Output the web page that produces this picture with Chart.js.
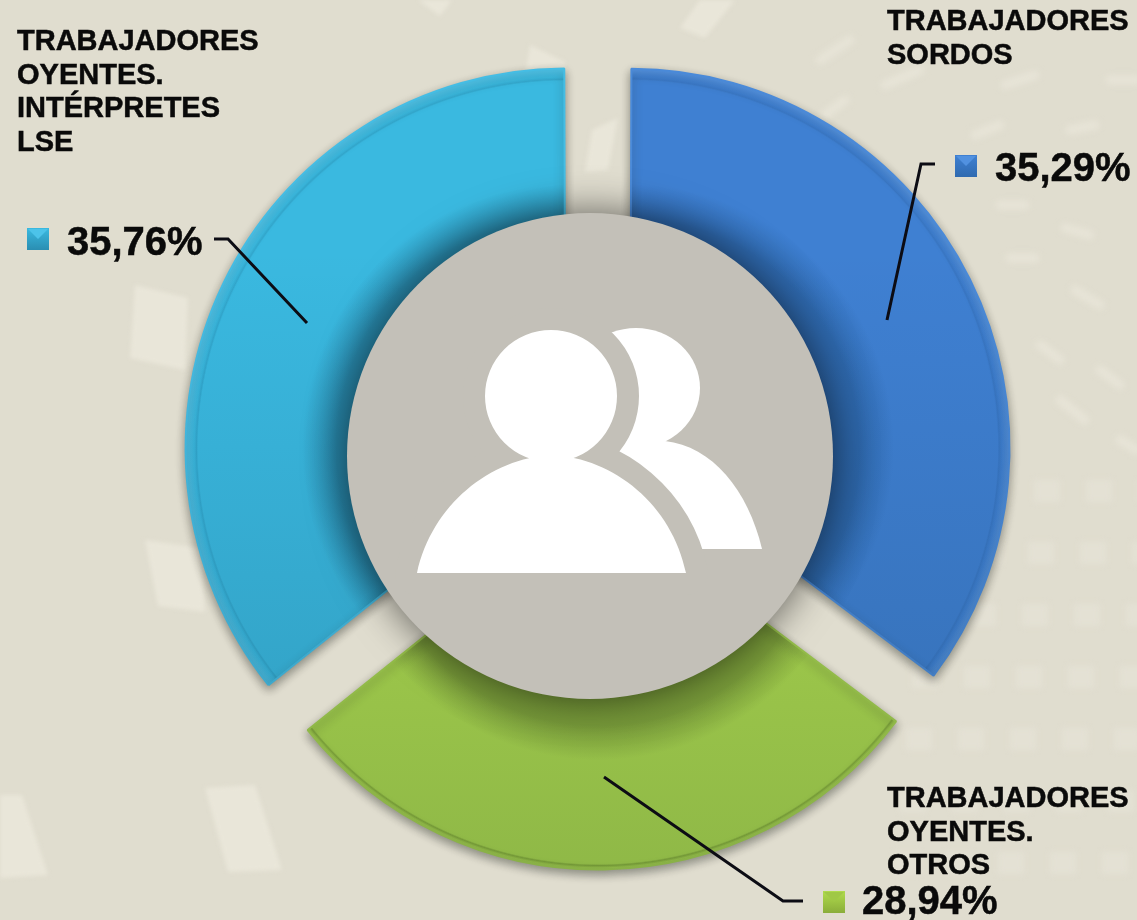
<!DOCTYPE html>
<html>
<head>
<meta charset="utf-8">
<title>Trabajadores</title>
<script src="https://cdn.jsdelivr.net/npm/chart.js@4"></script>
<style>
    html, body { margin: 0; padding: 0; background: #e0ddcf; }
    #wrap { position: relative; width: 1137px; height: 920px; overflow: hidden; }
    canvas { position: absolute; left: 0; top: 0; }
</style>
</head>
<body>
<div id="wrap">
    <canvas id="bg-id" width="1137" height="920"></canvas>
    <canvas id="myChart" width="1137" height="920"></canvas>
</div>
<script>
// Chart data //
const categories = [
    ["TRABAJADORES", "SORDOS"],
    ["TRABAJADORES", "OYENTES.", "OTROS"],
    ["TRABAJADORES", "OYENTES.", "INTÉRPRETES", "LSE"]
];
const values = [35.29, 28.94, 35.76];

// Slice colours: dark near the hole, main, thin line, rim, border
const sliceColors = [
    { dark: "#2f6ab0", main: "#3f80d2", line: "#3a78c6", rim: "#5191e0", border: "#4a8ad9" },
    { dark: "#8aad3a", main: "#b0dc4c", line: "#8fb63a", rim: "#a0c846", border: "#a8d24c" },
    { dark: "#2a8eb2", main: "#3ab9e0", line: "#33a9cf", rim: "#4cc3e9", border: "#45bde4" }
];
const sliceOffsets = [144, 130, 144];

// Where the texts and leader lines sit on the page
const calloutLayout = [
    { textX: 887, textY: 30, markerX: 955, markerY: 155, valueX: 995, valueY: 181,
      line: [[935, 164], [921, 164], [887, 320]] },
    { textX: 887, textY: 807, markerX: 823, markerY: 891, valueX: 862, valueY: 914,
      line: [[604, 777], [783, 901], [803, 901]] },
    { textX: 17, textY: 50, markerX: 27, markerY: 228, valueX: 67, valueY: 255,
      line: [[214, 239], [228, 239], [307, 323]] }
];

const pieCenter = { x: 598, y: 464 };
const pieRadius = 372;
const hub = { x: 590, y: 456, r: 243 };

// Background texture //
function drawBackground() {
    const ctx = document.getElementById("bg-id").getContext("2d");
    ctx.fillStyle = "#e0ddcf";
    ctx.fillRect(0, 0, 1137, 920);

    ctx.filter = "blur(2px)";
    ctx.fillStyle = "#e9e6d9";
    const patches = [
        [[135, 285], [188, 298], [185, 370], [130, 358]],
        [[145, 540], [200, 548], [205, 612], [158, 606]],
        [[205, 788], [255, 785], [282, 870], [228, 872]],
        [[0, 795], [22, 795], [48, 875], [0, 878]],
        [[530, 45], [565, 62], [560, 125], [518, 120]],
        [[418, 0], [452, 0], [440, 16]],
        [[700, 0], [735, 0], [705, 38], [680, 28]],
        [[592, 130], [618, 118], [608, 170], [585, 172]]
    ];
    patches.forEach(p => {
        ctx.beginPath();
        p.forEach((pt, i) => i ? ctx.lineTo(pt[0], pt[1]) : ctx.moveTo(pt[0], pt[1]));
        ctx.closePath();
        ctx.fill();
    });

    // Small dashes on the right side
    ctx.filter = "blur(3px)";
    ctx.strokeStyle = "#e7e4d7";
    ctx.lineWidth = 9;
    ctx.lineCap = "round";
    const dashes = [
        [820, 60, 850, 40], [825, 115, 845, 100], [885, 85, 920, 70], [1005, 85, 1035, 75],
        [1110, 80, 1137, 80], [975, 135, 1000, 125], [1070, 130, 1095, 125], [1000, 205, 1025, 205],
        [1065, 228, 1090, 235], [1010, 258, 1035, 258], [1075, 290, 1100, 305], [1040, 345, 1060, 360],
        [1100, 370, 1120, 385], [1060, 400, 1085, 420], [1120, 440, 1137, 450]
    ];
    dashes.forEach(d => {
        ctx.beginPath();
        ctx.moveTo(d[0], d[1]);
        ctx.lineTo(d[2], d[3]);
        ctx.stroke();
    });

    // Faint grid in the lower right corner
    ctx.filter = "blur(3px)";
    ctx.fillStyle = "#e4e1d4";
    for (let row = 0; row < 7; row++) {
        for (let col = 0; col < 5; col++) {
            const x = 930 + col * 52 - row * 6;
            const y = 480 + row * 62;
            if (x > 880) ctx.fillRect(x, y, 26, 22);
        }
    }
    ctx.filter = "none";
}

// Radial fill of every slice, follows the slice because it is used under the arc translate
function sliceGradient(ctx, c) {
    const g = ctx.createRadialGradient(pieCenter.x, pieCenter.y, 0, pieCenter.x, pieCenter.y, pieRadius + 10);
    g.addColorStop(0, c.dark);
    g.addColorStop(0.6, c.dark);
    g.addColorStop(0.69, c.main);
    g.addColorStop(0.962, c.main);
    g.addColorStop(0.966, c.line);
    g.addColorStop(0.972, c.main);
    g.addColorStop(0.988, c.rim);
    g.addColorStop(1, c.rim);
    return g;
}

function drawMarker(ctx, x, y, c) {
    const s = 22;
    const g = ctx.createLinearGradient(0, y, 0, y + s);
    g.addColorStop(0, c.main);
    g.addColorStop(1, c.dark);
    ctx.fillStyle = g;
    ctx.fillRect(x, y, s, s);
    ctx.fillStyle = c.rim;
    ctx.beginPath();
    ctx.moveTo(x + 1, y + 1);
    ctx.lineTo(x + s - 1, y + 1);
    ctx.lineTo(x + s / 2, y + s * 0.5);
    ctx.closePath();
    ctx.fill();
}

// The two people in the middle
function frontPerson(ctx) {
    ctx.beginPath();
    ctx.arc(551, 396, 66, 0, Math.PI * 2);
    ctx.moveTo(417, 573);
    ctx.bezierCurveTo(432, 505, 490, 458, 552, 455);
    ctx.bezierCurveTo(614, 458, 672, 505, 686, 573);
    ctx.closePath();
}

function drawPeople(ctx) {
    ctx.fillStyle = "#ffffff";
    ctx.beginPath();
    ctx.ellipse(636, 388, 64, 60, 0, 0, Math.PI * 2);
    ctx.fill();
    ctx.beginPath();
    ctx.moveTo(600, 441);
    ctx.lineTo(665, 441);
    ctx.bezierCurveTo(712, 446, 748, 490, 762, 549);
    ctx.lineTo(600, 549);
    ctx.closePath();
    ctx.fill();

    // Grey gap around the front person
    frontPerson(ctx);
    ctx.strokeStyle = "#c3c0b8";
    ctx.lineWidth = 44;
    ctx.lineJoin = "round";
    ctx.stroke();
    ctx.fillStyle = "#c3c0b8";
    ctx.fill();

    frontPerson(ctx);
    ctx.fillStyle = "#ffffff";
    ctx.fill();
}

// Plugin for shadows, hub, icon and callouts
const decorPlugin = {
    id: "decor",
    beforeDatasetsDraw(chart) {
        const ctx = chart.ctx;
        ctx.save();
        ctx.shadowColor = "rgba(40,40,30,0.45)";
        ctx.shadowBlur = 10;
        ctx.shadowOffsetY = 4;
    },
    afterDatasetsDraw(chart) {
        const ctx = chart.ctx;
        ctx.restore();

        // Slices get darker to the bottom
        ctx.save();
        ctx.globalCompositeOperation = "source-atop";
        const shade = ctx.createLinearGradient(0, 250, 0, 880);
        shade.addColorStop(0, "rgba(10,40,70,0)");
        shade.addColorStop(1, "rgba(10,40,50,0.2)");
        ctx.fillStyle = shade;
        ctx.fillRect(0, 0, 1137, 920);
        ctx.restore();

        // Grey hub
        ctx.save();
        ctx.shadowColor = "rgba(0,0,0,0.6)";
        ctx.shadowBlur = 40;
        ctx.fillStyle = "#c3c0b8";
        ctx.beginPath();
        ctx.arc(hub.x, hub.y, hub.r, 0, Math.PI * 2);
        ctx.fill();
        ctx.restore();
        drawPeople(ctx);

        // Leader lines, markers and texts
        calloutLayout.forEach((c, i) => {
            ctx.strokeStyle = "#0c0c14";
            ctx.lineWidth = 3;
            ctx.lineJoin = "miter";
            ctx.beginPath();
            c.line.forEach((pt, n) => n ? ctx.lineTo(pt[0], pt[1]) : ctx.moveTo(pt[0], pt[1]));
            ctx.stroke();

            drawMarker(ctx, c.markerX, c.markerY, sliceColors[i]);

            ctx.fillStyle = "#0a0a0a";
            ctx.strokeStyle = "#0a0a0a";
            ctx.lineWidth = 0.5;
            ctx.textBaseline = "alphabetic";
            ctx.textAlign = "left";
            ctx.font = "bold 40px 'Liberation Sans'";
            const valueText = values[i].toFixed(2).replace(".", ",") + "%";
            ctx.fillText(valueText, c.valueX, c.valueY);
            ctx.strokeText(valueText, c.valueX, c.valueY);

            ctx.font = "bold 29px 'Liberation Sans'";
            categories[i].forEach((line, n) => {
                ctx.fillText(line, c.textX, c.textY + n * 33.5);
                ctx.strokeText(line, c.textX, c.textY + n * 33.5);
            });
        });
    }
};

// Create chart //
drawBackground();
const canvas = document.getElementById("myChart");
const canvas2D = canvas.getContext("2d");

new Chart(canvas2D, {
    type: "doughnut",
    data: {
        labels: categories.map(item => item.join(" ")),
        datasets: [
            {
                data: values,
                backgroundColor: sliceColors.map(c => sliceGradient(canvas2D, c)),
                borderColor: sliceColors.map(c => c.border),
                borderWidth: 2,
                offset: sliceOffsets
            }
        ]
    },
    options: {
        responsive: false,
        animation: false,
        radius: pieRadius,
        cutout: "50%",
        // Moves the centre of the doughnut to pieCenter
        layout: { padding: { left: 2 * pieCenter.x - 1137, top: 2 * pieCenter.y - 920, right: 0, bottom: 0 } },
        plugins: {
            legend: { display: false },
            tooltip: { enabled: false }
        }
    },
    plugins: [decorPlugin]
});
</script>
</body>
</html>
